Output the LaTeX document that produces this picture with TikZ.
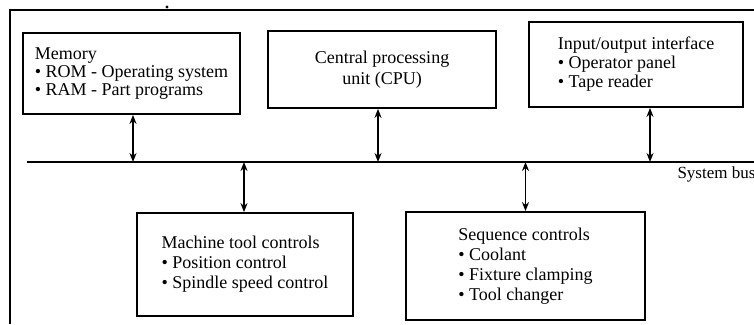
\documentclass[tikz,border=0pt]{standalone}
\usepackage{fontspec}
\setmainfont{Liberation Serif}
\usetikzlibrary{arrows.meta}
\begin{document}
\begin{tikzpicture}[x=1pt,y=-1pt,
  box/.style={draw, line width=1.8pt, inner sep=0pt, align=left},
  txt/.style={font=\fontsize{18}{18}\selectfont},
  link/.style={line width=1.9pt, {Stealth[length=9pt,width=7pt]}-{Stealth[length=9pt,width=7pt]}},
  frameline/.style={line width=2pt},
  busline/.style={line width=2.2pt}
]
\useasboundingbox (0,0) rectangle (754,324);
% outer frame
\draw[frameline] (10,324) -- (10,10) -- (754,10);
\fill (167,7) circle (1.6pt);
% bus
\coordinate (busL) at (27,162);
\coordinate (busR) at (754,162);
\draw[busline] (busL) -- (busR);
\node[font=\fontsize{17}{17}\selectfont, anchor=base west] (buslbl) at (674,178) {System bus};
% boxes
\node[box, txt, minimum width=217pt, minimum height=81pt] (mem) at (131.5,73.5)
  {Memory\\• ROM - Operating system\\• RAM - Part programs};
\node[box, align=center, minimum width=228pt, minimum height=77pt, font=\fontsize{18}{21}\selectfont] (cpu) at (382,69.5)
  {Central processing\\unit (CPU)};
\node[box, minimum width=214pt, minimum height=85pt, font=\fontsize{18}{19}\selectfont] (io) at (636,64.5)
  {Input/output interface\\• Operator panel\\• Tape reader};
\node[box, minimum width=216pt, minimum height=103pt, font=\fontsize{18}{20}\selectfont] (mt) at (245,264.5)
  {Machine tool controls\\• Position control\\• Spindle speed control};
\node[box, minimum width=239pt, minimum height=108pt, font=\fontsize{18}{20}\selectfont] (seq) at (525.5,266)
  {Sequence controls\\• Coolant\\• Fixture clamping\\• Tool changer};
% connectors
\draw[link] ([xshift=1.5pt]mem.south) -- ([xshift=1.5pt]mem.south |- busL);
\draw[link] ([xshift=-4pt]cpu.south) -- ([xshift=-4pt]cpu.south |- busL);
\draw[link] ([xshift=14pt]io.south) -- ([xshift=14pt]io.south |- busL);
\draw[link] ([xshift=-1pt]mt.north |- busL) -- ([xshift=-1pt]mt.north);
\draw[link] (seq.north |- busL) -- (seq.north);
\end{tikzpicture}
\end{document}
